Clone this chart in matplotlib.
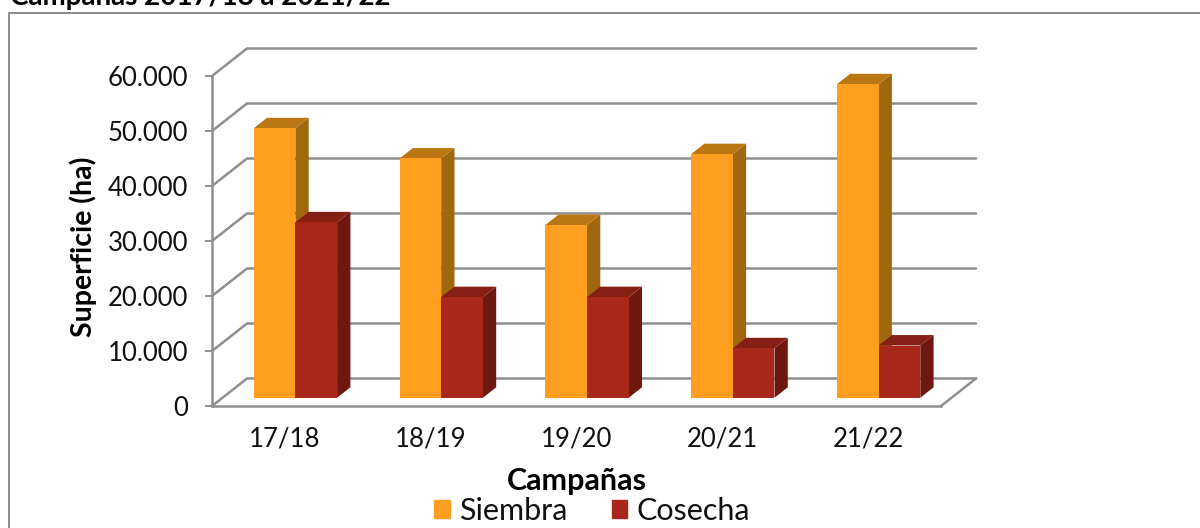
import matplotlib
matplotlib.use("Agg")
import matplotlib.pyplot as plt
from matplotlib.lines import Line2D
from matplotlib.patches import Patch

campanas = ["17/18", "18/19", "19/20", "20/21", "21/22"]
siembra = [49000, 43500, 31400, 44300, 57000]
cosecha = [31900, 18300, 18300, 9000, 9500]
y_ticks = [0, 10000, 20000, 30000, 40000, 50000, 60000]
y_labels = ["0", "10.000", "20.000", "30.000", "40.000", "50.000", "60.000"]

plt.rcParams["font.family"] = ["Lato", "DejaVu Sans"]

W, H = 1200, 528
fig = plt.figure(figsize=(W / 100, H / 100), dpi=100)
# front plane of the fake 3D box, pixels from the reference
ax = fig.add_axes([212 / W, 1 - 406 / H, (941 - 212) / W, (406 - 76) / H])
ax.set_xlim(-0.5, 4.5)
ax.set_ylim(0, 60000)

# depth of the box in data units
depth_x = 35 / (729 / 5)
depth_y = 27.5 / (330 / 60000)
GREY = "#8f8f8f"


def depth(x, y, f):
    return x + f * depth_x, y + f * depth_y


# grid lines run along the side wall and then the back wall
for v in y_ticks:
    ax.plot([-0.5, -0.5 + depth_x, 4.5 + depth_x], [v, v + depth_y, v + depth_y],
            color=GREY, lw=1.8, clip_on=False, zorder=1, solid_capstyle="round")
ax.plot([4.5, 4.5 + depth_x], [0, depth_y], color=GREY, lw=1.8, clip_on=False, zorder=1)


def bar3d(x, h, w, front, side, top, z):
    x0, y0 = depth(x, 0, 0.3)
    ax.bar(x0, h, w, bottom=y0, align="edge", color=front, zorder=z + 1, clip_on=False)
    xa, ya = depth(x + w, h, 0.3)
    xb, yb = depth(x + w, h, 0.68)
    xc, yc = depth(x + w, 0, 0.68)
    xd, yd = depth(x + w, 0, 0.3)
    ax.fill([xa, xb, xc, xd], [ya, yb, yc, yd], color=side, lw=0, zorder=z, clip_on=False)
    xe, ye = depth(x, h, 0.3)
    xf, yf = depth(x, h, 0.68)
    ax.fill([xe, xf, xb, xa], [ye, yf, yb, ya], color=top, lw=0, zorder=z, clip_on=False)


bw = 0.286
for i in range(len(campanas)):
    bar3d(i - bw, siembra[i], bw, "#ff9e1f", "#a0670f", "#bc7715", 3)
    bar3d(i, cosecha[i], bw, "#a9281b", "#6e1810", "#861f14", 5)

for s in ["top", "right"]:
    ax.spines[s].set_visible(False)
for s in ["left", "bottom"]:
    ax.spines[s].set_color(GREY)
    ax.spines[s].set_linewidth(1.8)
    ax.spines[s].set_zorder(2)

ax.set_yticks(y_ticks, y_labels)
ax.set_xticks(range(len(campanas)), campanas)
ax.tick_params(axis="y", length=5, width=1.4, color=GREY, pad=12, labelsize=18.5, labelcolor="#111111")
ax.tick_params(axis="x", length=0, pad=15, labelsize=18.5, labelcolor="#111111")

fig.text(577 / W, 1 - 481 / H, "Campañas", ha="center", va="center", fontsize=22, fontweight="bold")
fig.text(83 / W, 1 - 247 / H, "Superficie (ha)", ha="center", va="center", rotation=90,
         fontsize=20.5, fontweight="bold")
# title is cut by the top of the picture
fig.text(10 / W, 1 - 5 / H, "Campañas 2017/18 a 2021/22", ha="left", va="baseline",
         fontsize=20, fontweight="bold")

# chart frame, only top and left are in the crop
fig.add_artist(Line2D([9 / W, 9 / W, 1], [0, 1 - 13 / H, 1 - 13 / H], color="#8a8a8a", lw=1.4))

handles = [Patch(color="#ff9e1f", label="Siembra"), Patch(color="#a9281b", label="Cosecha")]
fig.legend(handles=handles, ncols=2, frameon=False, loc="center", bbox_to_anchor=(592 / W, 1 - 511 / H),
           fontsize=22, handlelength=0.5, handleheight=0.5, handletextpad=0.3, columnspacing=1.45,
           labelcolor="#111111")

fig.savefig("out.png", dpi=100)
